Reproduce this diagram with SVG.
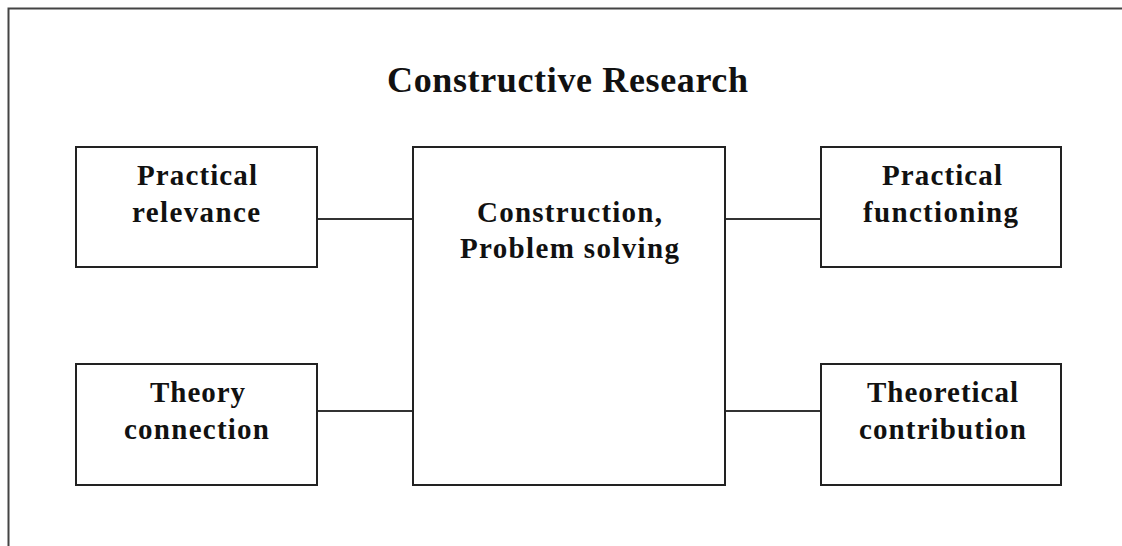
<svg xmlns="http://www.w3.org/2000/svg" width="1122" height="546" viewBox="0 0 1122 546">
<style>
.box{fill:#fff;stroke:#222;stroke-width:2}
.lbl{font-family:"Liberation Serif","Times New Roman",serif;font-weight:bold;font-size:29px;fill:#111;text-anchor:middle}
.title{font-family:"Liberation Serif","Times New Roman",serif;font-weight:bold;font-size:36px;fill:#111;text-anchor:middle}
.conn{stroke:#333;stroke-width:2;fill:none}
</style>
<rect x="0" y="0" width="1122" height="546" fill="#fff"/>
<rect x="8.5" y="8.5" width="1200" height="600" fill="none" stroke="#444" stroke-width="2"/>
<text class="title" x="567.5" y="92" textLength="361" lengthAdjust="spacing">Constructive Research</text>
<g id="connectors">
<line class="conn" x1="317" y1="219" x2="413" y2="219"/>
<line class="conn" x1="317" y1="411" x2="413" y2="411"/>
<line class="conn" x1="725" y1="219" x2="821" y2="219"/>
<line class="conn" x1="725" y1="411" x2="821" y2="411"/>
</g>
<g id="practical-relevance">
<rect class="box" x="76" y="147" width="241" height="120"/>
<text class="lbl" x="197" y="185" textLength="120" lengthAdjust="spacing">Practical</text>
<text class="lbl" x="196" y="222" textLength="128" lengthAdjust="spacing">relevance</text>
</g>
<g id="theory-connection">
<rect class="box" x="76" y="364" width="241" height="121"/>
<text class="lbl" x="197.5" y="402" textLength="95" lengthAdjust="spacing">Theory</text>
<text class="lbl" x="196.5" y="439" textLength="145" lengthAdjust="spacing">connection</text>
</g>
<g id="construction">
<rect class="box" x="413" y="147" width="312" height="338"/>
<text class="lbl" x="569.5" y="222" textLength="185" lengthAdjust="spacing">Construction,</text>
<text class="lbl" x="569.5" y="258" textLength="219" lengthAdjust="spacing">Problem solving</text>
</g>
<g id="practical-functioning">
<rect class="box" x="821" y="147" width="240" height="120"/>
<text class="lbl" x="942" y="185" textLength="120" lengthAdjust="spacing">Practical</text>
<text class="lbl" x="940.5" y="222" textLength="155" lengthAdjust="spacing">functioning</text>
</g>
<g id="theoretical-contribution">
<rect class="box" x="821" y="364" width="240" height="121"/>
<text class="lbl" x="942.5" y="402" textLength="151" lengthAdjust="spacing">Theoretical</text>
<text class="lbl" x="942.5" y="439" textLength="167" lengthAdjust="spacing">contribution</text>
</g>
</svg>
